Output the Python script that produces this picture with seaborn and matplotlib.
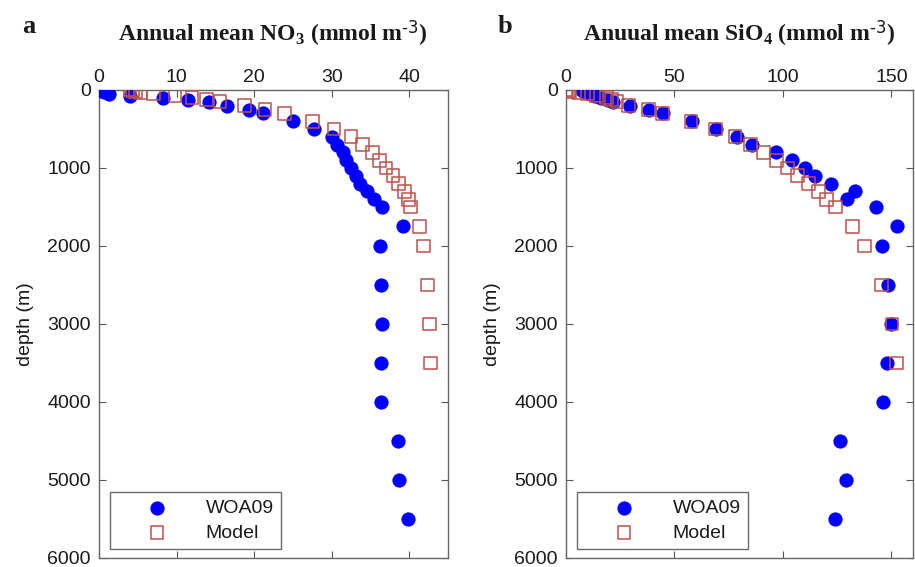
import numpy as np
import pandas as pd
import matplotlib
matplotlib.use("Agg")
import matplotlib.pyplot as plt
import seaborn as sns

# ---------------- data ----------------
depth_woa = [0, 10, 20, 30, 50, 75, 100, 125, 150, 200, 250, 300, 400, 500,
             600, 700, 800, 900, 1000, 1100, 1200, 1300, 1400, 1500, 1750,
             2000, 2500, 3000, 3500, 4000, 4500, 5000, 5500]
no3_woa = [0.2, 0.4, 0.7, 1.0, 1.3, 4.0, 8.3, 11.5, 14.2, 16.5, 19.3, 21.2, 25.0, 27.7,
           30.0, 30.7, 31.4, 31.9, 32.5, 33.1, 33.7, 34.5, 35.5, 36.5, 39.2,
           36.2, 36.4, 36.5, 36.4, 36.4, 38.5, 38.7, 39.8]
sio4_woa = [7.2, 7.8, 8.7, 10.0, 11.0, 13.3, 16.3, 19.4, 21.7, 29.3, 38.2, 44.6, 58.3, 69.3,
            78.7, 85.8, 96.8, 104.4, 110.3, 114.8, 122.2, 133.4, 129.6, 142.8, 152.5,
            145.5, 148.5, 150.0, 148.0, 146.2, 126.3, 128.9, 124.0]

depth_model = [0, 10, 20, 30, 50, 75, 100, 125, 150, 200, 250, 300, 400, 500,
               600, 700, 800, 900, 1000, 1100, 1200, 1300, 1400, 1500, 1750,
               2000, 2500, 3000, 3500]
no3_model = [4.0, 4.3, 4.7, 5.4, 7.0, 9.8, 12.0, 13.9, 15.6, 18.8, 21.4, 23.9, 27.5, 30.3,
             32.5, 34.0, 35.3, 36.2, 37.0, 37.9, 38.6, 39.4, 39.9, 40.2, 41.3,
             41.8, 42.4, 42.6, 42.7]
sio4_model = [0.5, 1.0, 1.8, 5.6, 9.9, 14.1, 18.6, 21.0, 23.5, 28.9, 38.2, 44.6, 57.6, 69.1,
              77.9, 85.1, 91.2, 96.9, 102.3, 106.9, 111.8, 116.4, 120.2, 124.3, 132.0,
              137.5, 145.4, 150.3, 152.3]

titles = [r"Annual mean NO$_3$ (mmol m$^{\text{-3}}$)",
          r"Anuual mean SiO$_4$ (mmol m$^{\text{-3}}$)"]
panel_letters = ["a", "b"]
xticks_a = [0, 10, 20, 30, 40]
xticks_b = [0, 50, 100, 150]
yticks = [0, 1000, 2000, 3000, 4000, 5000, 6000]
series_names = ["WOA09", "Model"]

# ---------------- style ----------------
sns.set_theme(style="white")
plt.rcParams["font.family"] = ["Liberation Sans", "DejaVu Sans"]
plt.rcParams["mathtext.fontset"] = "custom"
plt.rcParams["mathtext.default"] = "regular"

W, H = 915, 567
fig = plt.figure(figsize=(W / 100, H / 100), dpi=100)

def axrect(l, t, r, b):
    return [l / W, 1 - b / H, (r - l) / W, (b - t) / H]

ax_a = fig.add_axes(axrect(99, 90, 448, 558))
ax_b = fig.add_axes(axrect(566, 90, 913, 558))

blue = "#0000ff"
red = "#c0504d"

panels = [
    (ax_a, no3_woa, no3_model, (0, 45), xticks_a),
    (ax_b, sio4_woa, sio4_model, (0, 160), xticks_b),
]

for i, (ax, woa, mod, xlim, xt) in enumerate(panels):
    df_w = pd.DataFrame({"conc": woa, "depth": depth_woa})
    df_m = pd.DataFrame({"conc": mod, "depth": depth_model})
    sns.scatterplot(data=df_w, x="conc", y="depth", ax=ax, marker="o", s=105,
                    color=blue, edgecolor=blue, linewidth=0, label=series_names[0],
                    zorder=3)
    sns.scatterplot(data=df_m, x="conc", y="depth", ax=ax, marker="s", s=85,
                    color=red, facecolor="none", edgecolor=red, linewidth=1.1,
                    label=series_names[1], zorder=4)
    ax.set_xlim(*xlim)
    ax.set_ylim(6000, 0)
    ax.set_xticks(xt)
    ax.set_yticks(yticks)
    ax.xaxis.tick_top()
    ax.tick_params(axis="both", which="both", direction="in", length=5, width=0.8,
                   color="#555555", labelsize=14, labelcolor="#1a1a1a",
                   top=True, bottom=True, left=True, right=True,
                   labeltop=True, labelbottom=False, labelleft=True, labelright=False)
    ax.tick_params(axis="x", pad=3)
    ax.tick_params(axis="y", pad=6)
    for sp in ax.spines.values():
        sp.set_visible(True)
        sp.set_color("#666666")
        sp.set_linewidth(1.0)
    ax.set_xlabel("")
    ax.set_ylabel("depth (m)", fontsize=14, color="#1a1a1a")
    ax.yaxis.set_label_coords(-65 / 348, 0.5)
    leg = ax.legend(loc="lower left", bbox_to_anchor=(0.031, 0.019), borderaxespad=0,
                    fontsize=14, frameon=True, fancybox=False, handlelength=4.1,
                    handletextpad=0.45, borderpad=0.38, labelspacing=0.35,
                    markerscale=1.0)
    leg.get_frame().set_edgecolor("#444444")
    leg.get_frame().set_linewidth(1.0)
    for t in leg.get_texts():
        t.set_color("#1a1a1a")

# titles and panel letters
serif = ["Liberation Serif", "DejaVu Serif"]
fig.text(273 / W, 1 - 42 / H, titles[0], ha="center", va="baseline", fontsize=17,
         fontweight="bold", family=serif, color="#1a1a1a")
fig.text(739 / W, 1 - 42 / H, titles[1], ha="center", va="baseline", fontsize=17,
         fontweight="bold", family=serif, color="#1a1a1a")
fig.text(22 / W, 1 - 33 / H, panel_letters[0], ha="left", va="baseline", fontsize=19,
         fontweight="bold", family=serif, color="#1a1a1a")
fig.text(498 / W, 1 - 33 / H, panel_letters[1], ha="left", va="baseline", fontsize=19,
         fontweight="bold", family=serif, color="#1a1a1a")

fig.savefig("out.png", dpi=100)
